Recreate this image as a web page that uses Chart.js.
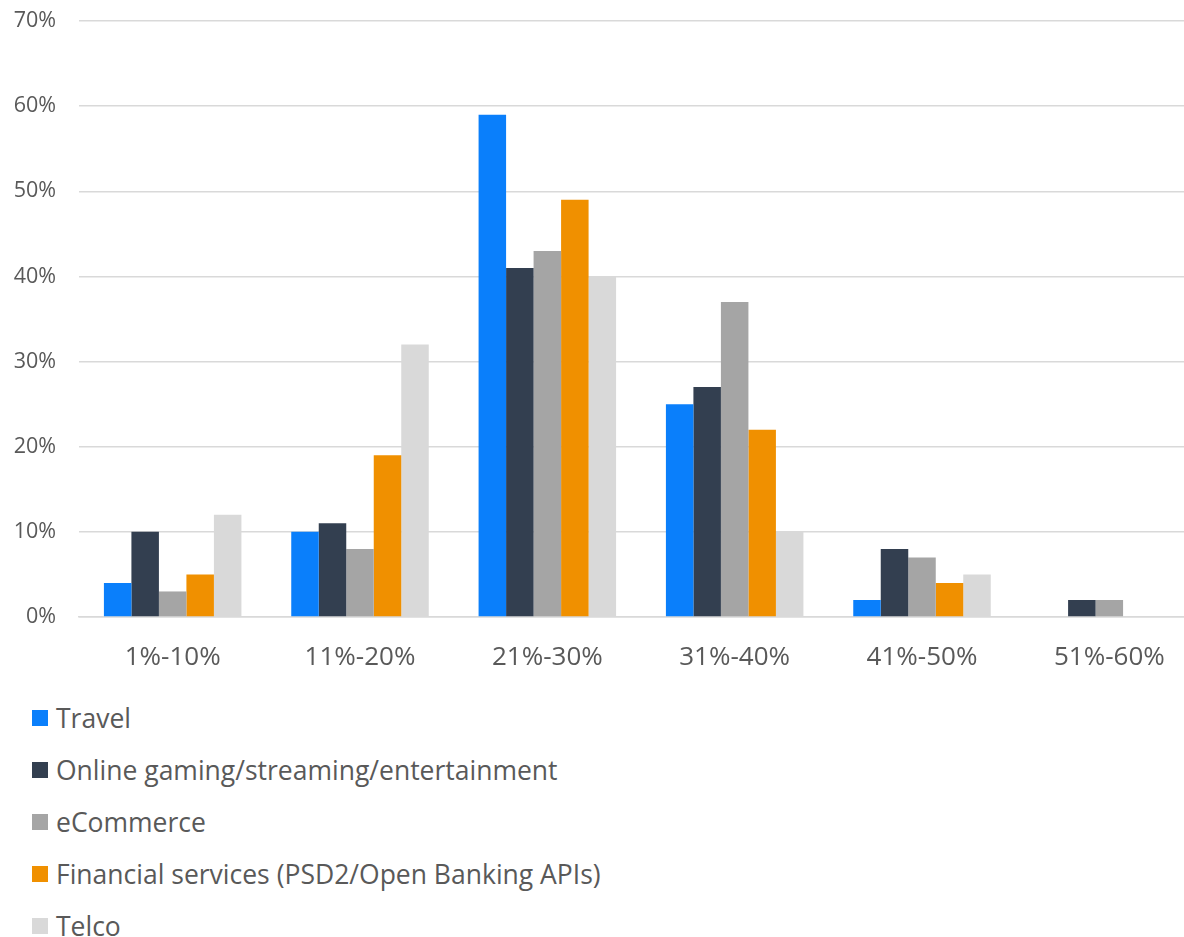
<!DOCTYPE html>
<html><head><meta charset="utf-8">
<script src="https://cdn.jsdelivr.net/npm/chart.js@4"></script>
<style>
html,body{margin:0;padding:0;background:#fff;overflow:hidden;width:1184px;height:937px;}
#wrap{position:absolute;left:0;top:0;width:1204px;height:690px;}
#legend{position:absolute;left:32px;top:692px;font-family:"Open Sans",sans-serif;font-size:26.5px;color:#595959;}
.li{height:52px;display:flex;align-items:center;}
.bx{width:16px;height:16px;margin-right:8px;flex:none;}
</style></head>
<body>
<div id="wrap"><canvas id="c"></canvas></div>
<div id="legend"></div>
<script>
const categories = ["1%-10%","11%-20%","21%-30%","31%-40%","41%-50%","51%-60%"];
const seriesNames = ["Travel","Online gaming/streaming/entertainment","eCommerce","Financial services (PSD2/Open Banking APIs)","Telco"];
const travel    = [4, 10, 59, 25, 2, 0];
const gaming    = [10, 11, 41, 27, 8, 2];
const ecommerce = [3, 8, 43, 37, 7, 2];
const financial = [5, 19, 49, 22, 4, 0];
const telco     = [12, 32, 40, 10, 5, 0];
const colors = ["#0a7ffb","#333f50","#a5a5a5","#f09000","#d9d9d9"];
const yTicks = [0,10,20,30,40,50,60,70];

const values = [travel, gaming, ecommerce, financial, telco];
const datasets = seriesNames.map((n,i)=>({label:n,data:values[i],backgroundColor:colors[i],borderWidth:0,barPercentage:1,categoryPercentage:0.734}));

const font = "'Open Sans', sans-serif";
new Chart(document.getElementById('c'),{
  type:'bar',
  data:{labels:categories,datasets},
  options:{
    responsive:true,maintainAspectRatio:false,animation:false,
    layout:{padding:{top:21,right:1,left:0,bottom:0}},
    plugins:{legend:{display:false},tooltip:{enabled:false}},
    scales:{
      x:{
        grid:{display:false,drawTicks:false},
        border:{display:true,color:"#d9d9d9",width:1.5},
        ticks:{color:"#595959",font:{family:font,size:26},padding:25,maxRotation:0},
        afterFit(s){s.height=73;}
      },
      y:{
        min:0,max:70,
        afterBuildTicks(s){s.ticks=yTicks.map(v=>({value:v}));},
        grid:{color:"#d9d9d9",lineWidth:1.5,drawTicks:false},
        border:{display:false},
        ticks:{color:"#595959",font:{family:font,size:21.5},padding:23,callback:v=>v+"%"},
        afterFit(s){s.width=79;s.paddingTop=13;s.paddingBottom=0;}
      }
    }
  }
});

const lg=document.getElementById('legend');
seriesNames.forEach((n,i)=>{
  const d=document.createElement('div');d.className='li';
  const b=document.createElement('span');b.className='bx';b.style.background=colors[i];
  const t=document.createElement('span');t.textContent=n;
  d.appendChild(b);d.appendChild(t);lg.appendChild(d);
});
</script>
</body></html>
